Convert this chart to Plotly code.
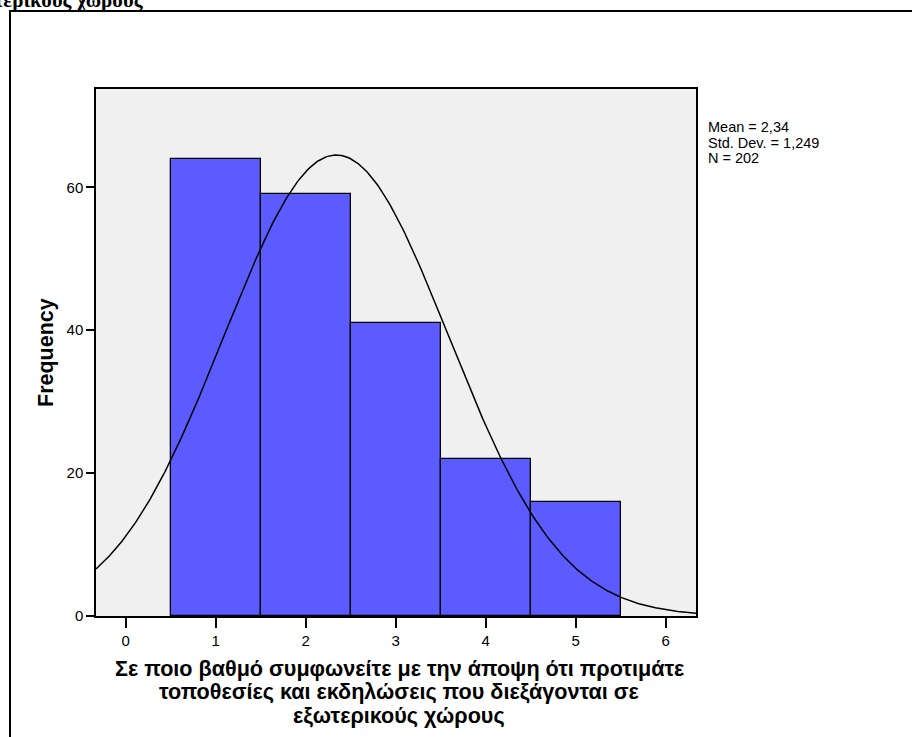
import numpy as np
import plotly.graph_objects as go

# Data
categories = [1, 2, 3, 4, 5]
frequencies = [64, 59, 41, 22, 16]
mean_val = 2.34
std_val = 1.249
n_val = 202
x_ticks = [0, 1, 2, 3, 4, 5, 6]
y_ticks = [0, 20, 40, 60]
stats_lines = ["Mean = 2,34", "Std. Dev. = 1,249", "N = 202"]
x_title_lines = ["Σε ποιο βαθμό συμφωνείτε με την άποψη ότι προτιμάτε",
                 "τοποθεσίες και εκδηλώσεις που διεξάγονται σε",
                 "εξωτερικούς χώρους"]
y_title = "Frequency"
top_title_tail = "εξωτερικούς χώρους"

W, H = 912, 737
L, R, T, B = 96, 696, 89, 616
xr = [-0.33, 6.337]
yr = [0, 73.76]

fig = go.Figure()
fig.add_trace(go.Bar(x=categories, y=frequencies, width=1,
                     marker=dict(color="#5B5BFF", line=dict(color="black", width=1.3)),
                     showlegend=False, hoverinfo="x+y"))

# normal curve fitted from the displayed stats (bin width 1)
xs = np.linspace(xr[0], xr[1], 400)
ys = n_val * 1.0 / (std_val * np.sqrt(2 * np.pi)) * np.exp(-0.5 * ((xs - mean_val) / std_val) ** 2)
fig.add_trace(go.Scatter(x=xs, y=ys, mode="lines", line=dict(color="black", width=1.5),
                         showlegend=False, hoverinfo="skip"))

def px2paper_x(px):
    return (px - L) / (R - L)

def px2paper_y(py):
    return (B - py) / (B - T)

font_family = "Liberation Sans, Arial, sans-serif"

annotations = []
# stats text
for i, s in enumerate(stats_lines):
    annotations.append(dict(x=px2paper_x(706), y=px2paper_y(127.5 + i * 15), xref="paper", yref="paper",
                            text=s, showarrow=False, xanchor="left", yanchor="middle",
                            font=dict(family=font_family, size=14.5, color="black")))
# x title
for i, s in enumerate(x_title_lines):
    annotations.append(dict(x=px2paper_x(399), y=px2paper_y(668 + i * 23.5), xref="paper", yref="paper",
                            text="<b>" + s + "</b>", showarrow=False, xanchor="center", yanchor="middle",
                            font=dict(family=font_family, size=21.6, color="black")))
# y title
annotations.append(dict(x=px2paper_x(46), y=px2paper_y(353), xref="paper", yref="paper",
                        text="<b>" + y_title + "</b>", showarrow=False, textangle=-90,
                        xanchor="center", yanchor="middle",
                        font=dict(family=font_family, size=21.5, color="black")))
# cropped top title
annotations.append(dict(x=px2paper_x(146), y=px2paper_y(0), xref="paper", yref="paper",
                        text="<b>" + top_title_tail + "</b>", showarrow=False,
                        xanchor="right", yanchor="middle",
                        font=dict(family="Liberation Serif, Times New Roman, serif", size=21, color="black")))

shapes = [dict(type="rect", xref="paper", yref="paper",
               x0=px2paper_x(10), x1=px2paper_x(920), y0=px2paper_y(11), y1=px2paper_y(745),
               line=dict(color="black", width=2), fillcolor="rgba(0,0,0,0)", layer="above")]

fig.update_layout(
    width=W, height=H,
    margin=dict(l=L, r=W - R, t=T, b=H - B, pad=0),
    paper_bgcolor="white", plot_bgcolor="#F0F0F0",
    bargap=0,
    font=dict(family=font_family, size=15, color="black"),
    annotations=annotations, shapes=shapes,
    xaxis=dict(range=xr, tickvals=x_ticks, ticks="outside", ticklen=10, tickwidth=1.5, tickcolor="black",
               showgrid=False, zeroline=False, showline=True, mirror=True, linecolor="black", linewidth=1.5,
               tickfont=dict(size=15)),
    yaxis=dict(range=yr, tickvals=y_ticks, ticks="outside", ticklen=8, tickwidth=1.5, tickcolor="black",
               showgrid=False, zeroline=False, showline=True, mirror=True, linecolor="black", linewidth=1.5,
               tickfont=dict(size=15)),
)

fig.write_html("out.html", config={"displayModeBar": False},
               post_script="document.body.style.margin='0';document.body.style.padding='0';")
